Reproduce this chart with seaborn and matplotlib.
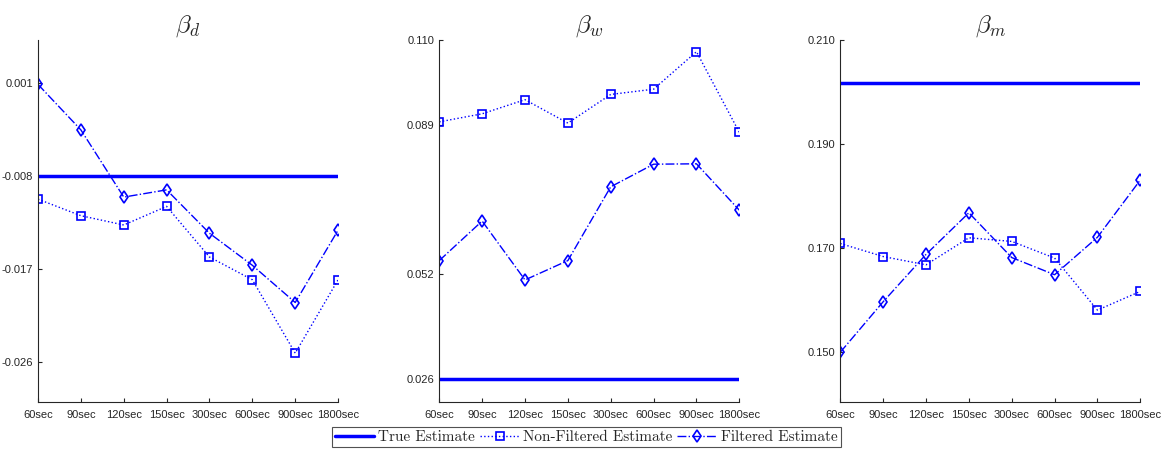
import numpy as np
import pandas as pd
import seaborn as sns
import matplotlib.pyplot as plt

# sampling frequencies on the x axis
freqs = ['60sec', '90sec', '120sec', '150sec', '300sec', '600sec', '900sec', '1800sec']

# beta_d
true_d = -0.0080
nonfilt_d = [-0.0102, -0.0118, -0.0127, -0.0109, -0.0158, -0.0180, -0.0251, -0.0180]
filt_d = [0.0009, -0.0035, -0.0100, -0.0093, -0.0135, -0.0166, -0.0202, -0.0132]
yticks_d = [-0.026, -0.017, -0.008, 0.001]
ylim_d = (-0.0298, 0.0052)

# beta_w
true_w = 0.0260
nonfilt_w = [0.0897, 0.0917, 0.0952, 0.0894, 0.0965, 0.0978, 0.1071, 0.0871]
filt_w = [0.0553, 0.0651, 0.0505, 0.0553, 0.0736, 0.0792, 0.0793, 0.0678]
yticks_w = [0.026, 0.052, 0.089, 0.110]
ylim_w = (0.0203, 0.110)

# beta_m
true_m = 0.2018
nonfilt_m = [0.1709, 0.1684, 0.1668, 0.1720, 0.1713, 0.1681, 0.1581, 0.1617]
filt_m = [0.1500, 0.1597, 0.1688, 0.1768, 0.1682, 0.1649, 0.1721, 0.1831]
yticks_m = [0.150, 0.170, 0.190, 0.210]
ylim_m = (0.1405, 0.210)

panels = [
    (r'$\beta_d$', true_d, nonfilt_d, filt_d, yticks_d, ylim_d),
    (r'$\beta_w$', true_w, nonfilt_w, filt_w, yticks_w, ylim_w),
    (r'$\beta_m$', true_m, nonfilt_m, filt_m, yticks_m, ylim_m),
]

sns.set_style('white')
plt.rcParams['font.family'] = ['Liberation Sans', 'DejaVu Sans']
plt.rcParams['mathtext.fontset'] = 'cm'

fig = plt.figure(figsize=(11.63, 4.5), dpi=100)
lefts = [0.0327, 0.3777, 0.7225]
bottom, height, width = 0.1073, 0.8038, 0.258
grey = '#262626'
x = np.arange(len(freqs))

for left, (title, tv, nf, fl, yt, yl) in zip(lefts, panels):
    ax = fig.add_axes([left, bottom, width, height])
    sns.lineplot(x=x, y=[tv] * len(freqs), ax=ax, color='blue', lw=2.5,
                 label='True Estimate')
    sns.lineplot(x=x, y=nf, ax=ax, color='blue', lw=1, linestyle=':',
                 marker='s', markersize=5.5, markerfacecolor='none',
                 markeredgecolor='blue', markeredgewidth=1.2,
                 label='Non-Filtered Estimate')
    sns.lineplot(x=x, y=fl, ax=ax, color='blue', lw=1, linestyle='-.',
                 marker='d', markersize=6, markerfacecolor='none',
                 markeredgecolor='blue', markeredgewidth=1.2,
                 label='Filtered Estimate')
    ax.set_xlim(0, len(freqs) - 1)
    ax.set_ylim(*yl)
    ax.set_xticks(x, labels=freqs)
    ax.set_yticks(yt, labels=[f'{v:.3f}' for v in yt])
    ax.tick_params(direction='in', length=3, width=0.8, labelsize=8,
                   colors=grey, left=True, bottom=True)
    ax.tick_params(axis='x', pad=6)
    for s in ['top', 'right']:
        ax.spines[s].set_visible(False)
    for s in ['left', 'bottom']:
        ax.spines[s].set_color(grey)
        ax.spines[s].set_linewidth(0.8)
    ax.set_title(title, fontsize=18, pad=6)
    handles, labels = ax.get_legend_handles_labels()
    ax.get_legend().remove()

leg = fig.legend(handles, labels, loc='lower center', bbox_to_anchor=(0.504, 0.0),
                 ncol=3, frameon=True, fancybox=False,
                 prop={'family': 'cmr10', 'size': 11},
                 handlelength=2.6, handletextpad=0.25, columnspacing=0.3,
                 borderpad=0.2, borderaxespad=0.2)
leg.get_frame().set_edgecolor(grey)
leg.get_frame().set_linewidth(0.8)

fig.savefig('out.png', dpi=100)
